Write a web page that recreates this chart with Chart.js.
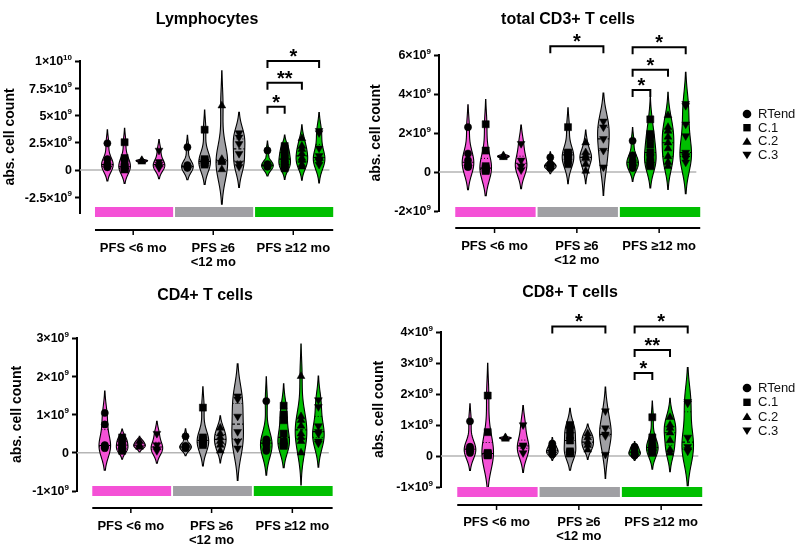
<!DOCTYPE html>
<html>
<head>
<meta charset="utf-8">
<script src="https://cdn.jsdelivr.net/npm/chart.js@4.4.1/dist/chart.umd.min.js"></script>
<style>
body { margin: 0; background: #fff; }
#wrap { position: relative; width: 798px; height: 545px; overflow: hidden; }
canvas { position: absolute; }
</style>
</head>
<body>
<div id="wrap">
  <canvas id="c1" width="360" height="270" style="left:0;top:0"></canvas>
  <canvas id="c2" width="438" height="270" style="left:360px;top:0"></canvas>
  <canvas id="c3" width="360" height="275" style="left:0;top:270px"></canvas>
  <canvas id="c4" width="438" height="275" style="left:360px;top:270px"></canvas>
</div>
<script>
const FONT = "'Liberation Sans', Arial, Helvetica, sans-serif";

// Groups (x axis) and time points (marker type)
const groupLabels = [['PFS <6 mo'], ['PFS ≥6', '<12 mo'], ['PFS ≥12 mo']];
const groupColors = ['#F451D6', '#A0A0A4', '#00BF00'];
const timepoints = ['RTend', 'C.1', 'C.2', 'C.3'];

// Values in units of 10^9 cells, one list per group: [<6 mo, 6-12 mo, >=12 mo]
const lymRTend = [[2.45, 1.0, 0.6, 0.4, 0.3, 0.25], [2.1, 0.45, 0.35, 0.3, 0.25, 0.2], [1.8, 0.55, 0.45, 0.4, 0.35, 0.3]];
const lymC1 = [[2.55, 1.1, 0.8, 0.3, 0.2, 0.1, 0.05], [3.7, 1.0, 0.9, 0.7, 0.6, 0.5], [2.2, 2.0, 1.6, 1.3, 1.0, 0.8, 0.5, 0.3, 0.15]];
const lymC2 = [[0.75, 0.85, 0.9], [5.9, 1.0, 0.9, 0.8, 0.7, 0.05], [2.9, 2.2, 1.9, 1.5, 1.1, 0.9, 0.5, 0.3]];
const lymC3 = [[1.8, 0.75, 0.5, 0.3, 0.2], [3.4, 3.0, 2.4, 1.5, 0.6, 0.3], [3.6, 3.4, 2.0, 1.3, 1.0, 0.9, 0.8, 0.5]];

const cd3RTend = [[2.3, 0.95, 0.6, 0.4, 0.3, 0.25], [0.75, 0.4, 0.35, 0.3, 0.25, 0.2], [1.6, 0.85, 0.6, 0.5, 0.4, 0.3, 0.2]];
const cd3C1 = [[2.45, 1.1, 0.3, 0.2, 0.15, 0.1, 0.05], [2.3, 1.0, 0.95, 0.8, 0.6, 0.4], [2.7, 1.95, 1.75, 1.4, 1.0, 0.75, 0.5, 0.35, 0.3]];
const cd3C2 = [[0.75, 0.8, 0.85], [1.5, 1.0, 0.85, 0.75, 0.7, 0.4, 0.05], [2.9, 2.3, 2.1, 1.8, 1.5, 1.2, 0.8, 0.5, 0.3]];
const cd3C3 = [[1.45, 0.6, 0.3, 0.1], [2.6, 2.3, 1.7, 1.1, 0.25], [3.5, 3.4, 2.45, 1.85, 1.0, 0.85, 0.8, 0.7, 0.5]];

const cd4RTend = [[1.04, 0.74, 0.2, 0.18, 0.15, 0.12], [0.43, 0.18, 0.15, 0.15, 0.12], [1.35, 0.35, 0.3, 0.25, 0.2, 0.1, 0.05]];
const cd4C1 = [[0.4, 0.3, 0.2, 0.1, 0.05], [1.18, 0.4, 0.35, 0.3, 0.25, 0.2], [1.23, 1.0, 0.85, 0.5, 0.3, 0.25, 0.2, 0.18]];
const cd4C2 = [[0.3, 0.2, 0.15], [0.65, 0.5, 0.4, 0.3, 0.2, 0.05], [2.0, 0.95, 0.85, 0.7, 0.5, 0.4, 0.3, 0.0]];
const cd4C3 = [[0.5, 0.2, 0.1, 0.05], [1.48, 1.4, 0.95, 0.55, 0.3, 0.12], [1.38, 1.2, 0.7, 0.55, 0.5, 0.3, 0.25]];

const cd8RTend = [[1.12, 0.3, 0.25, 0.2, 0.15, 0.1], [0.4, 0.3, 0.2, 0.15, 0.1, 0.05], [0.3, 0.25, 0.15, 0.1, 0.05, 0.02]];
const cd8C1 = [[1.95, 0.77, 0.1, 0.08, 0.05, 0.03, 0.02], [1.0, 0.85, 0.65, 0.5, 0.15, 0.1, 0.08], [1.25, 0.6, 0.4, 0.3, 0.25, 0.2, 0.15, 0.1]];
const cd8C2 = [[0.55, 0.58, 0.6], [0.72, 0.6, 0.45, 0.35, 0.2], [1.25, 1.0, 0.9, 0.75, 0.5, 0.2, 0.1]];
const cd8C3 = [[1.0, 0.35, 0.3, 0.1], [1.45, 0.9, 0.7, 0.65, 0.05], [1.75, 1.7, 0.6, 0.3, 0.2, 0.15]];

// y ticks and their labels ("^" marks the exponent)
const lymTicks = [-2.5, 0, 2.5, 5, 7.5, 10];
const lymTickLabels = ['-2.5×10^9', '0', '2.5×10^9', '5×10^9', '7.5×10^9', '1×10^10'];
const cd3Ticks = [-2, 0, 2, 4, 6];
const cd3TickLabels = ['-2×10^9', '0', '2×10^9', '4×10^9', '6×10^9'];
const cd4Ticks = [-1, 0, 1, 2, 3];
const cd4TickLabels = ['-1×10^9', '0', '1×10^9', '2×10^9', '3×10^9'];
const cd8Ticks = [-1, 0, 1, 2, 3, 4];
const cd8TickLabels = ['-1×10^9', '0', '1×10^9', '2×10^9', '3×10^9', '4×10^9'];

// significance brackets: [group, from time point, to time point, height, label]
const lymBrackets = [[2, 0, 1, 5.8, '*'], [2, 0, 2, 8.0, '**'], [2, 0, 3, 10.0, '*']];
const cd3Brackets = [[1, 0, 3, 6.45, '*'], [2, 0, 3, 6.4, '*'], [2, 0, 2, 5.25, '*'], [2, 0, 1, 4.2, '*']];
const cd4Brackets = [];
const cd8Brackets = [[1, 0, 3, 4.18, '*'], [2, 0, 3, 4.18, '*'], [2, 0, 2, 3.42, '**'], [2, 0, 1, 2.68, '*']];

// drawing constants
const GROUP_STEP = 4.65;
const BAR_FROM = -0.72, BAR_TO = 3.82;
const VIOLIN_HALF = 5.8;
const markerStyles = [
  { style: 'circle', rotation: 0, radius: 3.6 },
  { style: 'rect', rotation: 0, radius: 5 },
  { style: 'triangle', rotation: 0, radius: 4.5 },
  { style: 'triangle', rotation: 180, radius: 4.5 }
];

const panels = [
  { canvas: 'c1', title: 'Lymphocytes', titleX: 207, titleY: 20, series: [lymRTend, lymC1, lymC2, lymC3],
    yMin: -3.94, yMax: 10, ticks: lymTicks, tickLabels: lymTickLabels, brackets: lymBrackets,
    left: 80, top: 61, bottom: 213, right: 350, x0: 108, xStep: 17.6, yTitleX: 10, barOffset: -6, axisOffset: 17, legendY: null },
  { canvas: 'c2', title: 'total CD3+ T cells', titleX: 208, titleY: 20, series: [cd3RTend, cd3C1, cd3C2, cd3C3],
    yMin: -2, yMax: 6, ticks: cd3Ticks, tickLabels: cd3TickLabels, brackets: cd3Brackets,
    left: 79, top: 55, bottom: 211, right: 350, x0: 108, xStep: 17.7, yTitleX: 16, barOffset: -4, axisOffset: 17, legendY: 114, legendGap: 13.7 },
  { canvas: 'c3', title: 'CD4+ T cells', titleX: 205, titleY: 26, series: [cd4RTend, cd4C1, cd4C2, cd4C3],
    yMin: -1, yMax: 3, ticks: cd4Ticks, tickLabels: cd4TickLabels, brackets: cd4Brackets,
    left: 77, top: 68, bottom: 221, right: 345, x0: 105, xStep: 17.5, yTitleX: 17, barOffset: -5, axisOffset: 17, legendY: null },
  { canvas: 'c4', title: 'CD8+ T cells', titleX: 210, titleY: 23, series: [cd8RTend, cd8C1, cd8C2, cd8C3],
    yMin: -1, yMax: 4, ticks: cd8Ticks, tickLabels: cd8TickLabels, brackets: cd8Brackets,
    left: 81, top: 62, bottom: 217, right: 350, x0: 110, xStep: 17.7, yTitleX: 19, barOffset: 0, axisOffset: 18, legendY: 118, legendGap: 14.3 }
];

// Kernel density (gaussian) for one violin
function density(vals, y, h) {
  let d = 0;
  vals.forEach(v => { d += Math.exp(-0.5 * ((y - v) / h) ** 2); });
  return d;
}

function drawViolin(ctx, xs, ys, xv, vals, color) {
  const n = vals.length;
  const mean = vals.reduce((a, b) => a + b, 0) / n;
  const sd = Math.sqrt(vals.reduce((a, v) => a + (v - mean) ** 2, 0) / (n - 1)) || 0.01;
  const h = 1.06 * sd * Math.pow(n, -0.2);
  const lo = Math.min(...vals) - 2 * h, hi = Math.max(...vals) + 2 * h;
  const steps = 100, pts = [];
  for (let i = 0; i <= steps; i++) {
    const y = lo + (hi - lo) * i / steps;
    pts.push([y, density(vals, y, h)]);
  }
  const dMax = Math.max(...pts.map(p => p[1]));
  const half = d => VIOLIN_HALF * d / dMax;
  const cx = xs.getPixelForValue(xv);

  ctx.beginPath();
  pts.forEach(([y, d], i) => {
    const px = cx + half(d), py = ys.getPixelForValue(y);
    if (i === 0) ctx.moveTo(px, py); else ctx.lineTo(px, py);
  });
  for (let i = pts.length - 1; i >= 0; i--) {
    ctx.lineTo(cx - half(pts[i][1]), ys.getPixelForValue(pts[i][0]));
  }
  ctx.closePath();
  ctx.fillStyle = color;
  ctx.fill();
  ctx.lineWidth = 1.1;
  ctx.strokeStyle = '#000';
  ctx.stroke();

  // median and quartiles
  const s = [...vals].sort((a, b) => a - b);
  const q = f => {
    const pos = (n - 1) * f, i = Math.floor(pos);
    return s[i] + (s[Math.min(i + 1, n - 1)] - s[i]) * (pos - i);
  };
  [[q(0.5), [3, 2], 1.2], [q(0.25), [1, 2], 1], [q(0.75), [1, 2], 1]].forEach(([v, dash, lw]) => {
    const w = half(density(vals, v, h));
    const py = ys.getPixelForValue(v);
    ctx.setLineDash(dash);
    ctx.lineWidth = lw;
    ctx.beginPath();
    ctx.moveTo(cx - w, py);
    ctx.lineTo(cx + w, py);
    ctx.stroke();
  });
  ctx.setLineDash([]);
}

function drawMarker(ctx, style, rotation, r, x, y) {
  ctx.beginPath();
  if (style === 'circle') {
    ctx.arc(x, y, r, 0, Math.PI * 2);
  } else if (style === 'rect') {
    ctx.rect(x - r, y - r, 2 * r, 2 * r);
  } else {
    const s = rotation ? -1 : 1;
    ctx.moveTo(x, y - s * r);
    ctx.lineTo(x + r * 1.1, y + s * r * 0.8);
    ctx.lineTo(x - r * 1.1, y + s * r * 0.8);
    ctx.closePath();
  }
  ctx.fill();
}

function makeDecor(p) {
  return {
    id: 'panelDecor',
    beforeDatasetsDraw(chart) {
      const ctx = chart.ctx, xs = chart.scales.x, ys = chart.scales.y, area = chart.chartArea;
      ctx.save();
      // zero line
      const y0 = ys.getPixelForValue(0);
      ctx.strokeStyle = '#B5B5B5';
      ctx.lineWidth = 1.5;
      ctx.beginPath();
      ctx.moveTo(area.left, y0);
      ctx.lineTo(xs.getPixelForValue(2 * GROUP_STEP + 3.6), y0);
      ctx.stroke();
      // violins
      p.series.forEach((byGroup, t) => {
        byGroup.forEach((vals, g) => drawViolin(ctx, xs, ys, g * GROUP_STEP + t, vals, groupColors[g]));
      });
      ctx.restore();
    },
    afterDraw(chart) {
      const ctx = chart.ctx, xs = chart.scales.x, ys = chart.scales.y, area = chart.chartArea;
      ctx.save();

      // colored group bars
      groupColors.forEach((c, g) => {
        const x1 = xs.getPixelForValue(g * GROUP_STEP + BAR_FROM);
        const x2 = xs.getPixelForValue(g * GROUP_STEP + BAR_TO);
        ctx.fillStyle = c;
        ctx.fillRect(x1, area.bottom + p.barOffset, x2 - x1, 10);
      });

      // x axis line and ticks
      const ax = area.bottom + p.axisOffset;
      ctx.strokeStyle = '#000';
      ctx.lineWidth = 2;
      ctx.beginPath();
      ctx.moveTo(xs.getPixelForValue(BAR_FROM), ax);
      ctx.lineTo(xs.getPixelForValue(2 * GROUP_STEP + BAR_TO), ax);
      ctx.stroke();
      ctx.lineWidth = 1.5;
      groupLabels.forEach((_, g) => {
        const x = xs.getPixelForValue(g * GROUP_STEP + 1.5);
        ctx.beginPath();
        ctx.moveTo(x, ax);
        ctx.lineTo(x, ax + 5);
        ctx.stroke();
      });

      // significance brackets
      ctx.lineWidth = 2;
      ctx.fillStyle = '#000';
      ctx.font = `bold 20px ${FONT}`;
      ctx.textAlign = 'center';
      ctx.textBaseline = 'alphabetic';
      p.brackets.forEach(([g, a, b, v, label]) => {
        const x1 = xs.getPixelForValue(g * GROUP_STEP + a);
        const x2 = xs.getPixelForValue(g * GROUP_STEP + b);
        const y = ys.getPixelForValue(v);
        ctx.beginPath();
        ctx.moveTo(x1, y + 7);
        ctx.lineTo(x1, y);
        ctx.lineTo(x2, y);
        ctx.lineTo(x2, y + 7);
        ctx.stroke();
        ctx.fillText(label, (x1 + x2) / 2, y + 2);
      });

      // panel title
      ctx.font = `bold 16px ${FONT}`;
      ctx.textBaseline = 'middle';
      ctx.fillText(p.title, p.titleX, p.titleY);

      // y tick labels with superscript exponent
      ctx.textAlign = 'left';
      p.ticks.forEach((v, i) => {
        const [base, exp] = p.tickLabels[i].split('^');
        const y = ys.getPixelForValue(v);
        const right = area.left - 8;
        ctx.font = `bold 8px ${FONT}`;
        const we = exp ? ctx.measureText(exp).width : 0;
        ctx.font = `bold 12.5px ${FONT}`;
        const wb = ctx.measureText(base).width;
        ctx.fillText(base, right - we - wb, y + 1);
        if (exp) {
          ctx.font = `bold 8px ${FONT}`;
          ctx.fillText(exp, right - we, y - 3.5);
        }
      });

      // y axis title
      ctx.save();
      ctx.translate(p.yTitleX, (area.top + area.bottom) / 2);
      ctx.rotate(-Math.PI / 2);
      ctx.textAlign = 'center';
      ctx.font = `bold 14px ${FONT}`;
      ctx.fillText('abs. cell count', 0, 0);
      ctx.restore();

      // legend
      if (p.legendY != null) {
        const legendSizes = [4.3, 3.7, 4.2, 4.2];
        timepoints.forEach((name, t) => {
          const y = p.legendY + t * p.legendGap;
          ctx.fillStyle = '#000';
          drawMarker(ctx, markerStyles[t].style, markerStyles[t].rotation, legendSizes[t], 387, y);
          ctx.font = `13px ${FONT}`;
          ctx.fillStyle = '#111';
          ctx.textAlign = 'left';
          ctx.textBaseline = 'middle';
          ctx.fillText(name, 398, y + 0.5);
        });
      }
      ctx.restore();
    }
  };
}

panels.forEach(p => {
  const canvas = document.getElementById(p.canvas);
  const W = canvas.width, H = canvas.height;
  new Chart(canvas, {
    type: 'scatter',
    data: {
      datasets: timepoints.map((name, t) => ({
        label: name,
        data: p.series[t].flatMap((vals, g) => vals.map(v => ({ x: g * GROUP_STEP + t, y: v }))),
        pointStyle: markerStyles[t].style,
        pointRotation: markerStyles[t].rotation,
        pointRadius: markerStyles[t].radius,
        pointHoverRadius: markerStyles[t].radius,
        pointBackgroundColor: '#000',
        pointBorderColor: '#000',
        pointBorderWidth: 0.5
      }))
    },
    options: {
      responsive: false,
      animation: false,
      events: [],
      layout: { padding: { left: 0, top: p.top, right: W - p.right, bottom: 0 } },
      plugins: { legend: { display: false }, tooltip: { enabled: false } },
      scales: {
        x: {
          type: 'linear',
          min: (p.left - p.x0) / p.xStep,
          max: (p.right - p.x0) / p.xStep,
          afterBuildTicks: s => { s.ticks = groupLabels.map((_, g) => ({ value: g * GROUP_STEP + 1.5 })); },
          afterFit: s => { s.height = H - p.bottom; },
          grid: { display: false, drawTicks: false },
          border: { display: false },
          ticks: {
            autoSkip: false, maxRotation: 0, minRotation: 0, padding: 28, color: '#000',
            font: { family: FONT, size: 13, weight: 'bold', lineHeight: 1.1 },
            callback: (v, i) => groupLabels[i]
          }
        },
        y: {
          min: p.yMin,
          max: p.yMax,
          afterBuildTicks: s => { s.ticks = p.ticks.map(v => ({ value: v })); },
          afterFit: s => { s.width = p.left; },
          ticks: { display: false },
          grid: { drawOnChartArea: false, drawTicks: true, tickLength: 5, tickWidth: 2, tickColor: '#000' },
          border: { display: true, color: '#000', width: 2 }
        }
      }
    },
    plugins: [makeDecor(p)]
  });
});
</script>
</body>
</html>
